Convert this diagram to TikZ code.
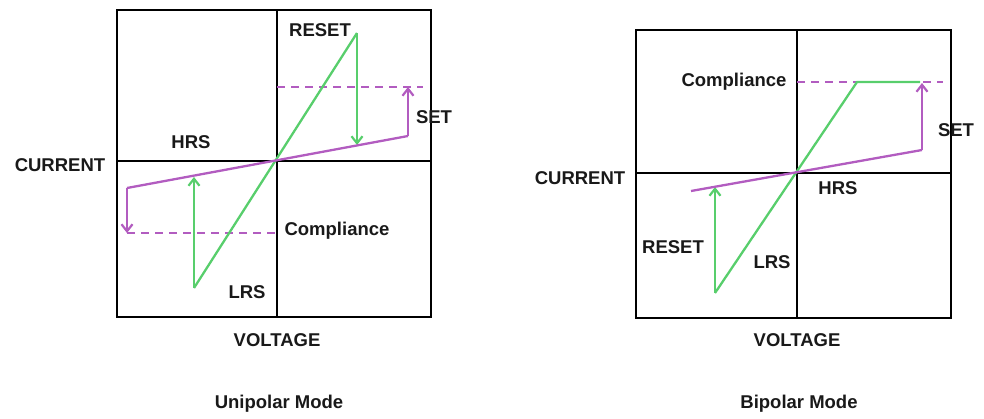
\documentclass[tikz,border=0pt]{standalone}
\usepackage{fontspec}
\setmainfont{Liberation Sans}
\usetikzlibrary{arrows.meta}
\definecolor{grn}{RGB}{88,206,108}
\definecolor{prp}{RGB}{178,92,192}
\begin{document}
\begin{tikzpicture}[x=1pt,y=-1pt,
  lbl/.style={font=\fontsize{18.5}{18.5}\selectfont\bfseries, inner sep=0pt, text=black!90},
  frame/.style={draw=black, line width=2.8pt},
  axis/.style={draw=black, line width=2.3pt},
  gline/.style={draw=grn, line width=2.3pt},
  pline/.style={draw=prp, line width=2.3pt},
  pdash/.style={draw=prp, line width=2.3pt, dash pattern=on 8pt off 6pt},
  arr/.style={-{Straight Barb[length=7pt,width=11pt,line width=2.2pt]}}]
\useasboundingbox (0,0) rectangle (984,418);
% ---------- Unipolar ----------
\coordinate (uo) at (277,161);
\draw[frame] (117,10) rectangle (431,317);
\draw[axis] (277,10) -- (277,317);
\draw[axis] (117,161) -- (431,161);
\coordinate (ugt) at (357,33);
\coordinate (ugb) at (194,288);
\coordinate (upr) at (408,136);
\coordinate (upl) at (127,188);
\coordinate (ucp) at (408,87);
\coordinate (ucn) at (127,233);
\draw[pdash] (277,87) -- (423,87);
\draw[pdash] (127,233) -- (277,233);
\draw[gline] (ugb) -- (ugt);
\draw[gline,arr] (ugt) -- (357,145);
\draw[gline,arr] (ugb) -- (194,177);
\draw[pline] (upl) -- (upr);
\draw[pline,arr] (upr) -- (ucp);
\draw[pline,arr] (upl) -- (ucn);
\node[lbl] (ureset) at (320,30) {RESET};
\node[lbl] (uset) at (434,117) {SET};
\node[lbl] (uhrs) at (191,142) {HRS};
\node[lbl] (ucomp) at (337,231) {Compliance};
\node[lbl] (ulrs) at (247,292) {LRS};
\node[lbl] (ucur) at (60,165) {CURRENT};
\node[lbl] (uvol) at (277,340) {VOLTAGE};
\node[lbl] (umode) at (279,404) {Unipolar Mode};
% ---------- Bipolar ----------
\draw[frame] (636,30) rectangle (951,318);
\draw[axis] (797,30) -- (797,318);
\draw[axis] (636,173) -- (951,173);
\coordinate (bo) at (797,173);
\coordinate (bgk) at (857,82);
\coordinate (bgr) at (920,82);
\coordinate (bgb) at (715,293);
\coordinate (bpl) at (691,191);
\coordinate (bpr) at (922,150);
\draw[pdash] (797,82) -- (943,82);
\draw[gline] (bgb) -- (bgk) -- (bgr);
\draw[gline,arr] (bgb) -- (715,187);
\draw[pline] (bpl) -- (bpr);
\draw[pline,arr] (bpr) -- (922,83);
\node[lbl] (bcomp) at (734,82) {Compliance};
\node[lbl] (bset) at (956,130) {SET};
\node[lbl] (bhrs) at (838,188) {HRS};
\node[lbl] (breset) at (673,247) {RESET};
\node[lbl] (blrs) at (772,262) {LRS};
\node[lbl] (bcur) at (580,178) {CURRENT};
\node[lbl] (bvol) at (797,340) {VOLTAGE};
\node[lbl] (bmode) at (799,404) {Bipolar Mode};
\end{tikzpicture}
\end{document}
